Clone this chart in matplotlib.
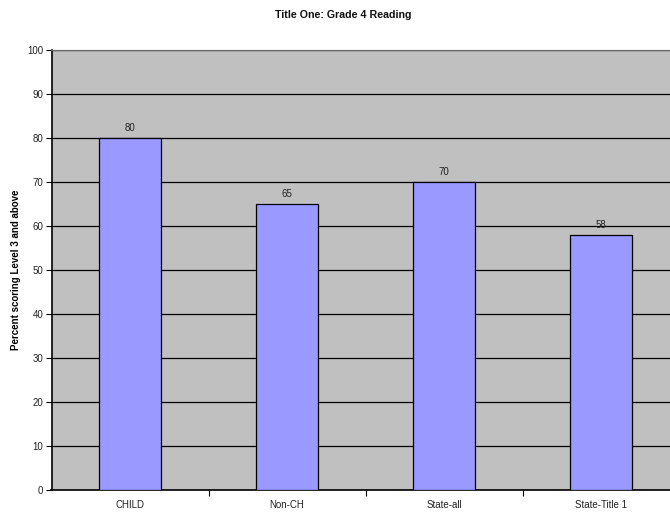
import matplotlib
matplotlib.use('Agg')
import matplotlib.pyplot as plt
import numpy as np

categories = ['CHILD', 'Non-CH', 'State-all', 'State-Title 1']
values = [80, 65, 70, 58]

plt.rcParams['font.family'] = ['Liberation Sans', 'DejaVu Sans']

fig = plt.figure(figsize=(6.7, 5.14), dpi=100)
# plot area runs a little past the right edge, as in the original
ax = fig.add_axes([51.5 / 670, 1 - 490 / 514, 628 / 670, 440 / 514])
ax.set_facecolor('#c0c0c0')

x = np.arange(len(categories))
bars = ax.bar(x, values, width=0.4, color='#9999ff', edgecolor='#000000', linewidth=0.9, zorder=3)
for b, v in zip(bars, values):
    ax.text(b.get_x() + b.get_width() / 2, v + 1.2, str(v), ha='center', va='bottom',
            fontsize=7, color='#222222', zorder=4)

ax.set_xlim(-0.5, len(categories) - 0.5)
ax.set_ylim(0, 100)
ax.set_yticks(range(0, 101, 10))
ax.yaxis.grid(True, color='black', linewidth=0.9, zorder=1)
ax.set_axisbelow(True)

ax.set_xticks(np.arange(0.5, len(categories) - 0.5, 1))
ax.set_xticks(x, minor=True)
ax.set_xticklabels([])
ax.set_xticklabels(categories, minor=True)
ax.tick_params(axis='x', which='minor', length=0, pad=7, labelsize=7, colors='#222222')
ax.tick_params(axis='x', which='major', length=4, width=0.8, direction='out')
ax.tick_params(axis='y', length=4, width=0.8, direction='out', labelsize=7, labelcolor='#222222', pad=2)

for s in ['top', 'right']:
    ax.spines[s].set_color('#666666')
ax.spines['left'].set_color('black')
ax.spines['bottom'].set_color('black')
ax.spines['left'].set_linewidth(1.2)
ax.spines['bottom'].set_linewidth(1.2)

ax.set_ylabel('Percent scoring Level 3 and above', fontsize=7, fontweight='bold', labelpad=4)
fig.text(343 / 670, 1 - 15 / 514, 'Title One: Grade 4 Reading', ha='center', va='center',
         fontsize=7.7, fontweight='bold', color='#111111')

fig.savefig('out.png', dpi=100)
